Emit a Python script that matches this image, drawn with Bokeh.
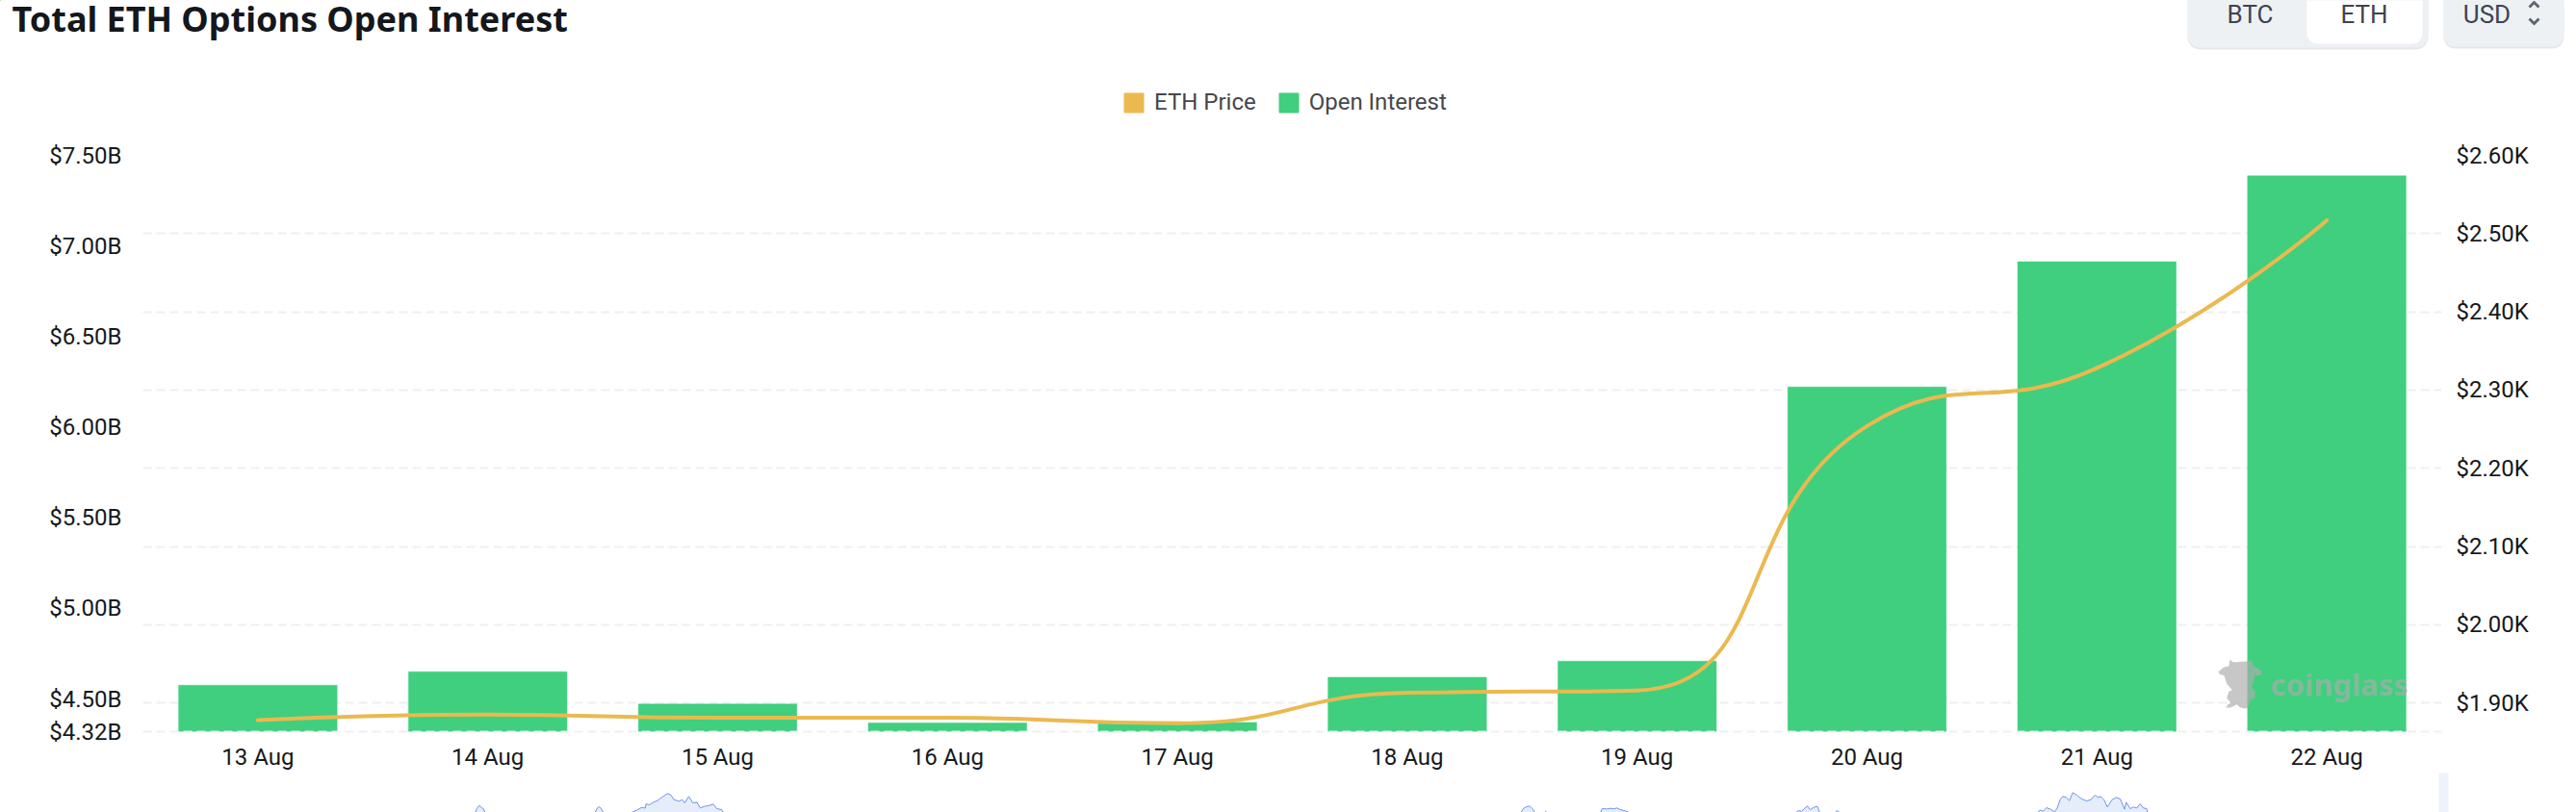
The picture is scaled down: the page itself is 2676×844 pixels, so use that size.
from bokeh.embed import file_html
from bokeh.resources import INLINE
from bokeh.plotting import figure
from bokeh.layouts import column
from bokeh.models import (Range1d, LinearAxis, FixedTicker, Grid, ColumnDataSource, Legend, LegendItem,
                          Label, BoxAnnotation, PolyAnnotation)

# ---------- data ----------
dates = ["13 Aug", "14 Aug", "15 Aug", "16 Aug", "17 Aug", "18 Aug", "19 Aug", "20 Aug", "21 Aug", "22 Aug"]
open_interest_b = [4.576, 4.651, 4.472, 4.368, 4.371, 4.620, 4.709, 6.222, 6.913, 7.387]
eth_price = [1878, 1885, 1881, 1881, 1874, 1913, 1916, 2254, 2328, 2517]
left_ticks = [4.32, 4.5, 5.0, 5.5, 6.0, 6.5, 7.0, 7.5]
left_labels = ["$4.32B", "$4.50B", "$5.00B", "$5.50B", "$6.00B", "$6.50B", "$7.00B", "$7.50B"]
right_ticks = [1900, 2000, 2100, 2200, 2300, 2400, 2500, 2600]
right_labels = ["$1.90K", "$2.00K", "$2.10K", "$2.20K", "$2.30K", "$2.40K", "$2.50K", "$2.60K"]

# context series of the range slider strip under the chart (no axis of its own)
mini_a_x = [578, 580, 583, 586, 588, 590]
mini_a_y = [102, 90, 80, 88, 90, 102]
mini_b_x = [724, 726, 729, 732, 734]
mini_b_y = [102, 90, 84, 92, 102]
mini_c_x = [768, 770, 777, 780, 785, 786, 790, 795, 800, 805, 808, 812, 816, 820, 826, 830, 833, 838, 843, 848, 852, 857, 863, 868, 872, 878, 880]
mini_c_y = [102, 100, 92, 87, 88, 75, 78, 70, 65, 55, 50, 43, 47, 62, 67, 62, 72, 52, 72, 70, 88, 83, 80, 76, 90, 93, 102]
mini_d_x = [1851, 1854, 1858, 1862, 1865, 1868]
mini_d_y = [102, 90, 84, 82, 90, 102]
mini_e_x = [1880, 1881, 1883]
mini_e_y = [102, 99, 102]
mini_f_x = [1948, 1950, 1956, 1960, 1964, 1968, 1972, 1978, 1983]
mini_f_y = [102, 90, 91, 89, 91, 88, 93, 97, 102]
mini_g_x = [2186, 2189, 2193, 2197, 2200, 2203, 2208, 2212, 2215]
mini_g_y = [102, 96, 98, 88, 82, 93, 86, 83, 102]
mini_h_x = [2234, 2236, 2239]
mini_h_y = [102, 96, 102]
mini_i_x = [2480, 2483, 2487, 2491, 2496, 2501, 2504, 2508, 2511, 2515, 2519, 2523, 2528, 2534, 2540, 2545, 2550, 2554, 2557, 2561, 2565, 2571, 2576, 2581, 2586, 2588, 2593, 2597, 2601, 2605, 2609, 2613, 2614]
mini_i_y = [102, 95, 98, 87, 92, 100, 88, 60, 52, 55, 65, 40, 48, 60, 66, 62, 48, 55, 52, 62, 85, 62, 55, 60, 92, 70, 90, 85, 88, 75, 88, 90, 102]
mini_series = [(mini_a_x, mini_a_y), (mini_b_x, mini_b_y), (mini_c_x, mini_c_y), (mini_d_x, mini_d_y),
               (mini_e_x, mini_e_y), (mini_f_x, mini_f_y), (mini_g_x, mini_g_y), (mini_h_x, mini_h_y),
               (mini_i_x, mini_i_y)]

# ---------- style ----------
W, H = 2676, 844
FONT = "Roboto"
GREEN, GOLD = "#3FCF7F", "#EBB94F"
GRID = "#EFEFEF"
HEAD_H, MAIN_H, STRIP_H = 145, 658, 41
L, R, T, B = 148, 140, 16, 42

def bare(fig):
    fig.outline_line_color = None
    fig.background_fill_color = None
    fig.border_fill_color = "white"
    fig.grid.visible = False
    fig.frame_align = False
    return fig

# ---------- header ----------
head = bare(figure(width=W, height=HEAD_H, output_backend="svg", toolbar_location=None,
                   x_range=Range1d(0, W), y_range=Range1d(HEAD_H, 0),
                   min_border=0, x_axis_location=None, y_axis_location=None, margin=0))

def hlab(txt, x, y, size, color, align="left", style="normal", font=FONT):
    head.add_layout(Label(x=x, y=y, text=txt, text_font=font, text_font_size=f"{size}px", text_color=color,
                          text_align=align, text_font_style=style, text_baseline="alphabetic"))

def hbox(l, r, t, b, fill, radius=0):
    head.add_layout(BoxAnnotation(left=l, right=r, top=t, bottom=b, fill_color=fill, fill_alpha=1,
                                  line_color=None, border_radius=radius))

def hpoly(x, y, fill):
    head.add_layout(PolyAnnotation(xs=x, ys=y, fill_color=fill, fill_alpha=1, line_color=None))

hlab("Total ETH Options Open Interest", 12, 19, 36, "#14171C", style="bold", font="Noto Sans")
hbox(2272, 2522, -30, 51, "#E4E7EB", 13)
hbox(2272, 2522, -30, 49, "#EEF1F4", 13)
hbox(2396, 2516, -30, 45, "#FFFFFF", 11)
hbox(2538, 2663, -30, 50, "#E4E7EB", 12)
hbox(2538, 2663, -30, 48, "#EEF1F4", 12)
hlab("BTC", 2337, 14, 26, "#3D4450", align="center")
hlab("ETH", 2455.5, 14, 26, "#3D4450", align="center")
hlab("USD", 2583, 14, 26, "#3D4450", align="center")
hpoly([2626, 2632, 2638, 2636, 2632, 2628], [6, 0, 6, 8, 4, 8], "#5B6472")
hpoly([2626, 2632, 2638, 2636, 2632, 2628], [20, 26, 20, 18, 22, 18], "#5B6472")

sw_gold = head.vbar(x=[-100], top=[-100], bottom=[-101], width=1, fill_color=GOLD, line_color=GOLD)
sw_green = head.vbar(x=[-100], top=[-100], bottom=[-101], width=1, fill_color=GREEN, line_color=GREEN)
legend = Legend(items=[LegendItem(label="ETH Price", renderers=[sw_gold]),
                       LegendItem(label="Open Interest", renderers=[sw_green])],
                orientation="horizontal", location=(1165, 25),
                border_line_color=None, background_fill_alpha=0, padding=0, margin=0, spacing=21,
                glyph_width=25, glyph_height=25, label_standoff=9, label_height=25,
                label_text_font=FONT, label_text_font_size="24px", label_text_color="#45474B")
head.add_layout(legend, "center")

# ---------- main chart ----------
p = bare(figure(width=W, height=MAIN_H, output_backend="svg", toolbar_location=None,
                x_range=Range1d(-0.5, 9.5), y_range=Range1d(4.32, 7.5),
                min_border_left=L, min_border_right=R, min_border_top=T, min_border_bottom=B,
                x_axis_location=None, y_axis_location=None, margin=0))
p.extra_y_ranges = {"price": Range1d(1863.3, 2600)}

def style(ax, standoff):
    ax.major_tick_line_color = None
    ax.minor_tick_line_color = None
    ax.major_label_text_font = FONT
    ax.major_label_text_font_size = "24px"
    ax.major_label_text_color = "#16181C"
    ax.major_label_standoff = standoff
    ax.axis_line_color = None

left = LinearAxis(ticker=FixedTicker(ticks=left_ticks),
                  major_label_overrides=dict(zip(left_ticks, left_labels)))
style(left, 16)
p.add_layout(left, "left")
right = LinearAxis(y_range_name="price", ticker=FixedTicker(ticks=right_ticks),
                   major_label_overrides=dict(zip(right_ticks, right_labels)))
style(right, 9)
p.add_layout(right, "right")
bottom = LinearAxis(ticker=FixedTicker(ticks=list(range(len(dates)))),
                    major_label_overrides={i: d for i, d in enumerate(dates)})
style(bottom, 6)
bottom.axis_line_color = GRID
bottom.axis_line_width = 2
bottom.axis_line_dash = "9 5"
p.add_layout(bottom, "below")

p.add_layout(Grid(dimension=1, ticker=FixedTicker(ticks=right_ticks), y_range_name="price",
                  grid_line_color=GRID, grid_line_width=2, grid_line_dash="9 5"))

xs = list(range(len(dates)))
bars = p.vbar(x=xs, top=open_interest_b, bottom=left_ticks[0], width=0.689,
              fill_color=GREEN, line_color=GREEN, line_alpha=0.5, line_width=1)

# smoothed price line (ECharts' smooth=0.5 segment rule, worked in pixel space)
PX_X = (W - L - R) / 10.0
PX_Y = (MAIN_H - T - B) / (2600 - 1863.3)
pts = [(x * PX_X, v * PX_Y) for x, v in zip(xs, eth_price)]

def clamp(v, a, b):
    return max(min(v, max(a, b)), min(a, b))

def control_points(points, smooth=0.5):
    outs, ins = [], []
    n = len(points)
    for i, (x, y) in enumerate(points):
        if i == 0 or i == n - 1:
            outs.append((x, y)); ins.append((x, y)); continue
        px, py = points[i - 1]
        nx, ny = points[i + 1]
        vx, vy = nx - px, ny - py
        lp = ((x - px) ** 2 + (y - py) ** 2) ** 0.5
        ln = ((nx - x) ** 2 + (ny - y) ** 2) ** 0.5
        r = ln / (ln + lp)
        cx1 = clamp(x + vx * smooth * r, x, nx)
        cy1 = clamp(y + vy * smooth * r, y, ny)
        dx, dy = cx1 - x, cy1 - y
        cx0 = clamp(x - dx * lp / ln, x, px)
        cy0 = clamp(y - dy * lp / ln, y, py)
        dx, dy = x - cx0, y - cy0
        cx1 = x + dx * ln / lp
        cy1 = y + dy * ln / lp
        ins.append((cx0, cy0)); outs.append((cx1, cy1))
    return ins, outs

ins, outs = control_points(pts)
seg = ColumnDataSource(dict(
    x0=xs[:-1], y0=eth_price[:-1], x1=xs[1:], y1=eth_price[1:],
    cx0=[c[0] / PX_X for c in outs[:-1]], cy0=[c[1] / PX_Y for c in outs[:-1]],
    cx1=[c[0] / PX_X for c in ins[1:]], cy1=[c[1] / PX_Y for c in ins[1:]]))
p.bezier("x0", "y0", "x1", "y1", "cx0", "cy0", "cx1", "cy1", source=seg, y_range_name="price",
         line_color=GOLD, line_width=4, line_cap="round")

# watermark
logo_x = [78, 88, 130, 142, 148, 150, 178, 175, 155, 152, 145, 158, 155, 140, 138, 128, 110, 100, 80, 65, 72, 80, 68, 75, 85, 68, 60, 45, 42, 58, 75]
logo_y = [30, 38, 36, 32, 40, 48, 68, 78, 80, 100, 118, 130, 150, 158, 175, 183, 180, 170, 180, 180, 170, 165, 150, 130, 125, 105, 80, 75, 68, 55, 50]
p.add_layout(PolyAnnotation(xs=[2290 + v / 3 for v in logo_x], ys=[675 - HEAD_H + v / 3 for v in logo_y],
                            xs_units="canvas", ys_units="canvas", fill_color="#ACACAC", fill_alpha=0.68, line_color=None))
p.add_layout(Label(x=2358 - L, y=(HEAD_H + MAIN_H - B) - 711, x_units="screen", y_units="screen", text="coinglass",
                   text_font="Noto Sans", text_font_size="31px", text_color="#ACACAC", text_font_style="bold",
                   text_alpha=0.68, text_baseline="alphabetic"))

# ---------- range slider strip ----------
strip = bare(figure(width=W, height=STRIP_H, output_backend="svg", toolbar_location=None,
                    x_range=Range1d(0, W * 1.172), y_range=Range1d(102, -21),
                    min_border=0, x_axis_location=None, y_axis_location=None, margin=0))
for mx, my in mini_series:
    strip.varea(x=mx, y1=my, y2=102, fill_color="#E6EDFA")
    strip.line(x=mx, y=my, line_color="#6D93EE", line_width=1)
strip.quad(left=[2533 * 1.172], right=[2543 * 1.172], top=[-24], bottom=[102], fill_color="#EEF2FC", line_color=None)

page = column(head, p, strip, spacing=0, margin=(0, 0, 0, 0))
open("out.html", "w").write(file_html(page, INLINE))
